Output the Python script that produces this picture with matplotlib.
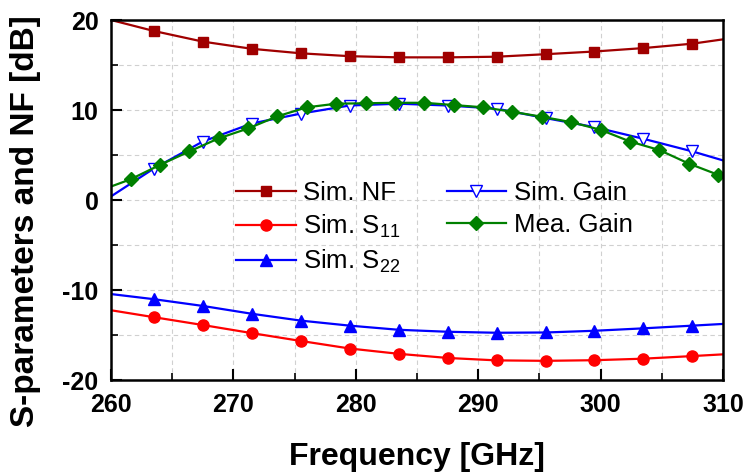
import matplotlib
matplotlib.use('Agg')
import matplotlib.pyplot as plt
from matplotlib.ticker import MultipleLocator

plt.rcParams['font.family'] = ['Liberation Sans', 'DejaVu Sans']
plt.rcParams['axes.unicode_minus'] = False
plt.rcParams['mathtext.fontset'] = 'custom'
plt.rcParams['mathtext.rm'] = 'Liberation Sans'

# simulated curves: line ends at 260/310 GHz, markers every 4 GHz in between
freq_sim = [260, 263.5, 267.5, 271.5, 275.5, 279.5, 283.5, 287.5, 291.5,
            295.5, 299.5, 303.5, 307.5, 310]
sim_nf = [20.0, 18.78, 17.6, 16.8, 16.3, 15.98, 15.85, 15.85, 15.92,
          16.2, 16.5, 16.88, 17.37, 17.85]
sim_s11 = [-12.25, -13.02, -13.89, -14.79, -15.66, -16.5, -17.09, -17.55,
           -17.82, -17.87, -17.8, -17.63, -17.34, -17.15]
sim_s22 = [-10.45, -11.02, -11.77, -12.64, -13.4, -13.96, -14.42, -14.64,
           -14.75, -14.72, -14.53, -14.26, -13.96, -13.77]
sim_gain = [0.4, 3.5, 6.5, 8.5, 9.6, 10.5, 10.7, 10.5, 10.15, 9.1, 8.1,
            6.8, 5.4, 4.4]

# measured gain, markers every 2.4 GHz
freq_mea = [260, 261.6, 264.0, 266.4, 268.8, 271.2, 273.6, 276.0, 278.4,
            280.8, 283.2, 285.6, 288.0, 290.4, 292.8, 295.2, 297.6, 300.0,
            302.4, 304.8, 307.2, 309.6, 310]
mea_gain = [1.5, 2.3, 3.9, 5.4, 6.85, 7.95, 9.3, 10.3, 10.7, 10.75, 10.8,
            10.8, 10.55, 10.3, 9.8, 9.25, 8.65, 7.8, 6.5, 5.55, 4.05, 2.8, 2.5]

fig = plt.figure(figsize=(7.47, 4.74), dpi=100)
ax = fig.add_axes([0.1486, 0.1983, 0.8193, 0.7595])

mk = slice(1, -1)
ax.plot(freq_sim, sim_nf, color='#A00000', lw=1.6, marker='s', ms=7,
        markevery=mk, label='Sim. NF')
ax.plot(freq_sim, sim_s11, color='#FF0000', lw=1.6, marker='o', ms=8,
        markevery=mk, label=r'Sim. S$\mathregular{_{11}}$')
ax.plot(freq_sim, sim_s22, color='#0000FF', lw=1.6, marker='^', ms=8,
        markevery=mk, label=r'Sim. S$\mathregular{_{22}}$')
ax.plot(freq_sim, sim_gain, color='#0000FF', lw=1.6, marker='v', ms=9,
        mfc='white', mec='#0000FF', mew=1.0, markevery=mk, label='Sim. Gain')
ax.plot(freq_mea, mea_gain, color='#008000', lw=1.6, marker='D', ms=7,
        markevery=mk, label='Mea. Gain')

ax.set_xlim(260, 310)
ax.set_ylim(-20, 20)
ax.xaxis.set_major_locator(MultipleLocator(10))
ax.xaxis.set_minor_locator(MultipleLocator(5))
ax.yaxis.set_major_locator(MultipleLocator(10))
ax.yaxis.set_minor_locator(MultipleLocator(5))
ax.grid(which='both', linestyle=(0, (4, 3)), color='#d0d0d0', lw=0.8)
ax.set_axisbelow(True)

ax.tick_params(which='major', direction='in', length=8, width=1.5,
               labelsize=18, pad=9)
ax.tick_params(which='minor', direction='in', length=5, width=1.2)
for lab in ax.get_xticklabels() + ax.get_yticklabels():
    lab.set_fontweight('bold')
for sp in ax.spines.values():
    sp.set_linewidth(1.8)

ax.set_xlabel('Frequency [GHz]', fontsize=23, fontweight='bold', labelpad=18)
ax.set_ylabel('S-parameters and NF [dB]', fontsize=24, fontweight='bold')
ax.yaxis.set_label_coords(-0.115, 0.44)

ax.legend(ncol=2, frameon=False, fontsize=18.5, loc='upper left',
          bbox_to_anchor=(0.205, 0.553), borderpad=0, borderaxespad=0,
          handlelength=2.3, handletextpad=0.3, columnspacing=1.8,
          labelspacing=0.3)

fig.savefig('out.png', dpi=100)
